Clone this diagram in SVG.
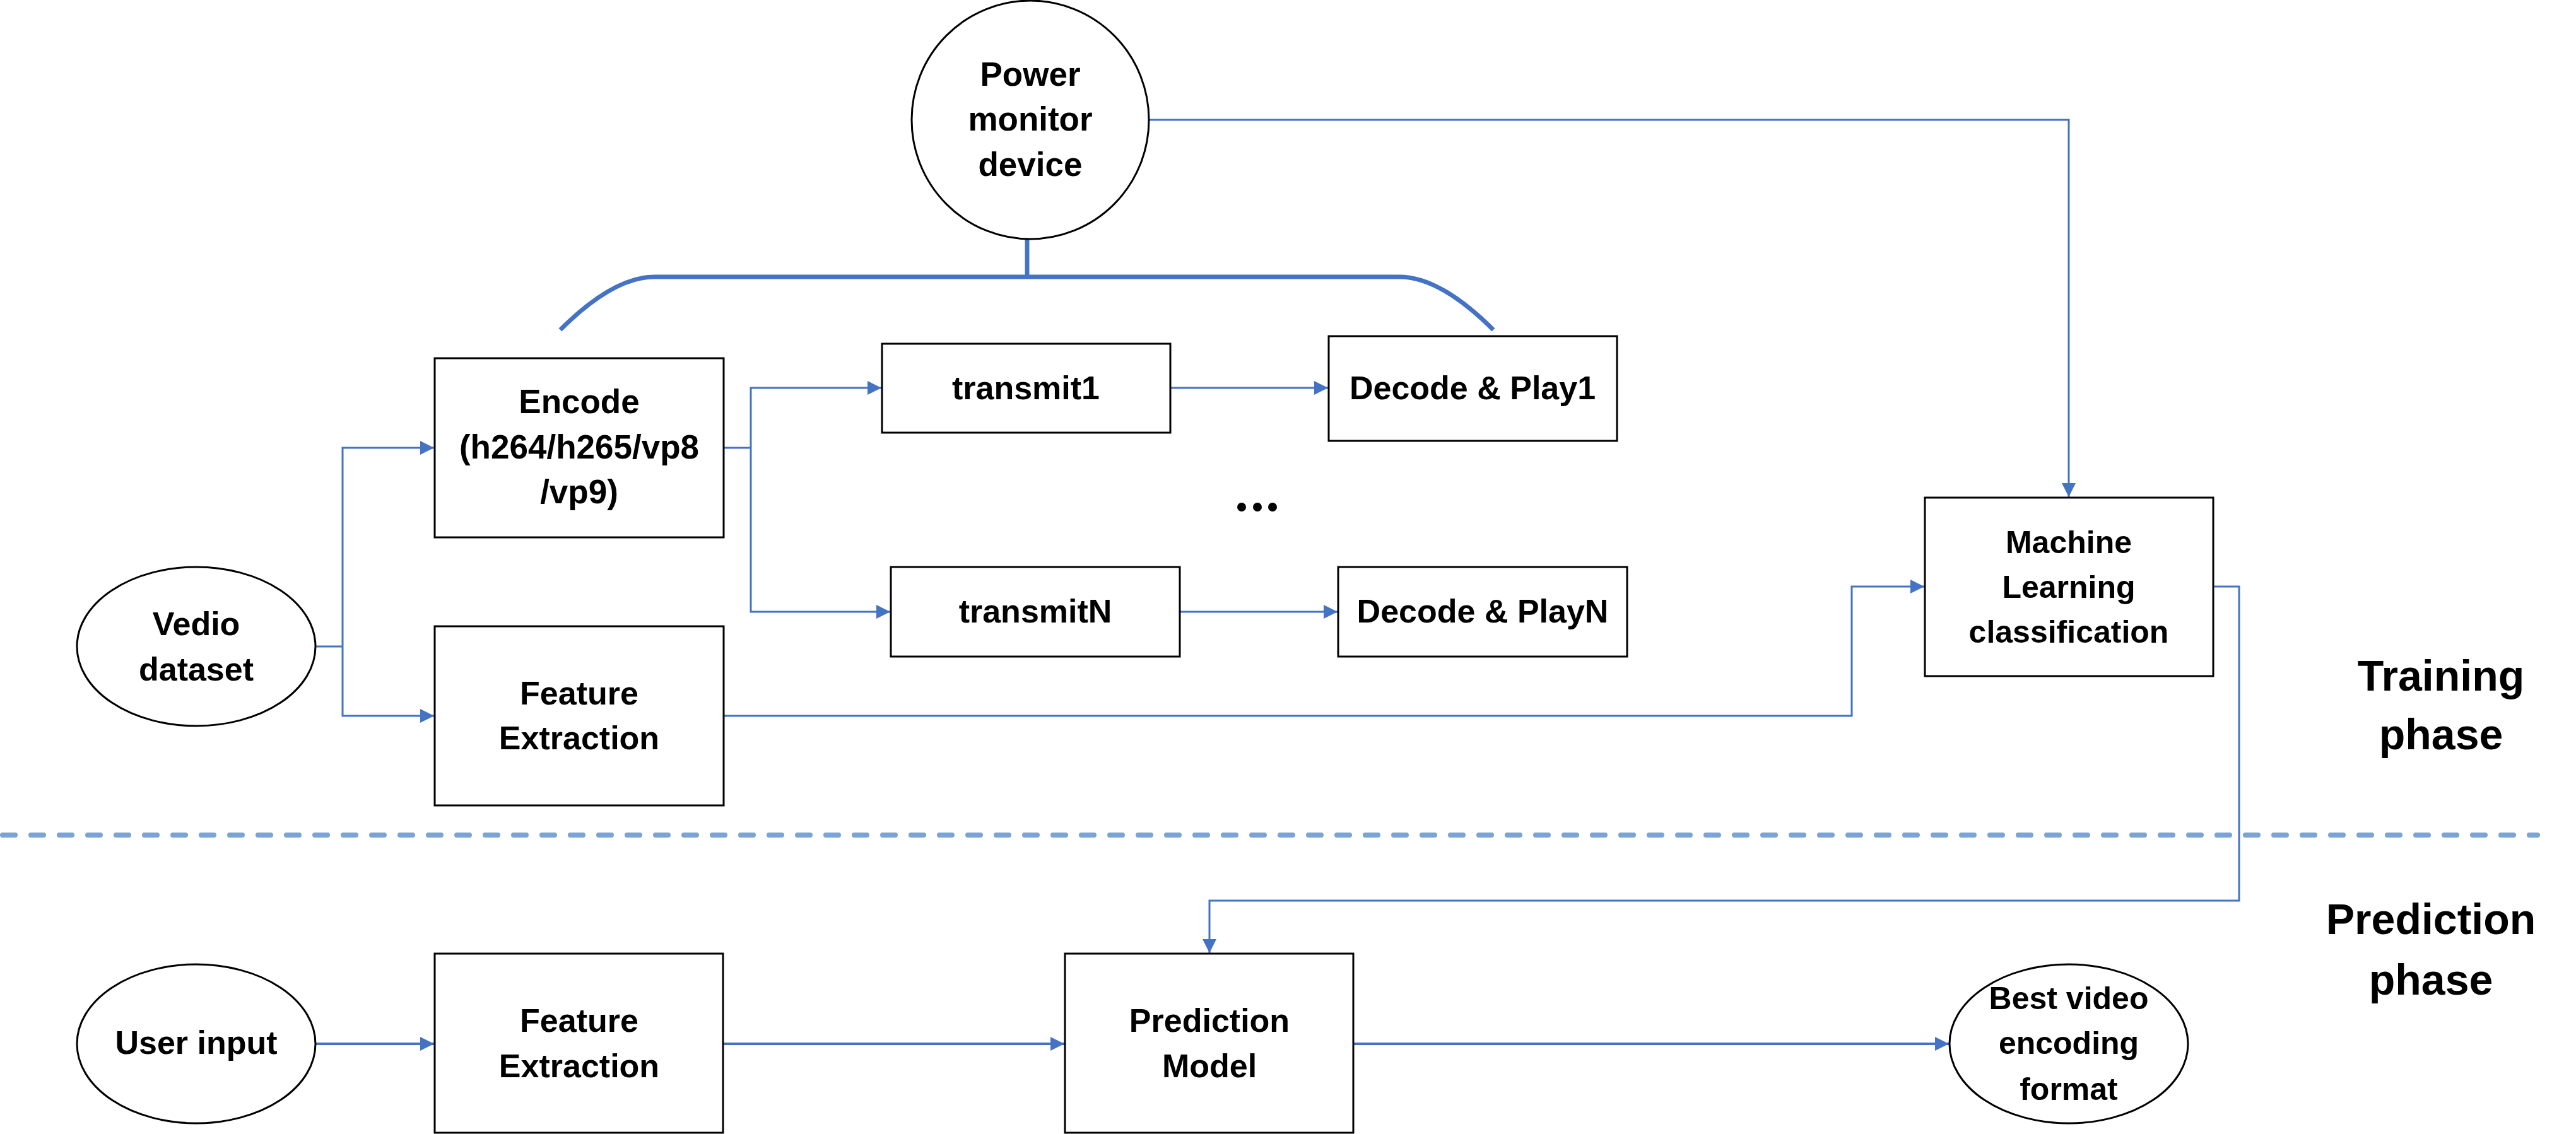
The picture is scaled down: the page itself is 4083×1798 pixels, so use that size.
<svg xmlns="http://www.w3.org/2000/svg" width="4083" height="1798" viewBox="0 0 4083 1798">
<style>
.box{fill:#fff;stroke:#000;stroke-width:3}
.t{font-family:"Liberation Sans",Arial,sans-serif;font-weight:bold;fill:#000;text-anchor:middle}
.c{fill:none;stroke:#4472C4;stroke-width:3}
.cb{fill:none;stroke:#4472C4;stroke-width:4}
.br{fill:none;stroke:#4472C4;stroke-width:7}
</style>
<defs>
<marker id="a" markerUnits="userSpaceOnUse" markerWidth="24" markerHeight="24" refX="22" refY="11" orient="auto">
<path d="M0,0 L22,11 L0,22 z" fill="#4472C4"/>
</marker>
</defs>
<rect width="4083" height="1798" fill="#fff"/>
<g id="connectors">
<path class="br" d="M888,523 Q972,439 1037,439 L2218,439 Q2283,439 2367,523"/>
<path class="br" d="M1628,356 L1628,439"/>
<path class="c" d="M1822,190 L3279,190 L3279,788" marker-end="url(#a)"/>
<path class="c" d="M500,1025 L543,1025"/>
<path class="c" d="M543,1025 L543,710 L688,710" marker-end="url(#a)"/>
<path class="c" d="M543,1025 L543,1135 L688,1135" marker-end="url(#a)"/>
<path class="c" d="M1147,710 L1190,710"/>
<path class="c" d="M1190,710 L1190,615 L1397,615" marker-end="url(#a)"/>
<path class="c" d="M1190,710 L1190,970 L1411,970" marker-end="url(#a)"/>
<path class="c" d="M1855,615 L2105,615" marker-end="url(#a)"/>
<path class="c" d="M1870,970 L2120,970" marker-end="url(#a)"/>
<path class="c" d="M1147,1135 L2935,1135 L2935,930 L3050,930" marker-end="url(#a)"/>
<path class="c" d="M3508,930 L3549,930 L3549,1428 L1917,1428 L1917,1511" marker-end="url(#a)"/>
<path class="cb" d="M500,1655 L688,1655" marker-end="url(#a)"/>
<path class="cb" d="M1146,1655 L1687,1655" marker-end="url(#a)"/>
<path class="cb" d="M2145,1655 L3089,1655" marker-end="url(#a)"/>
</g>
<line id="divider" x1="4" y1="1324" x2="4022" y2="1324" stroke="#7BA3D4" stroke-width="8" stroke-linecap="round" stroke-dasharray="20 25"/>
<g id="power">
<ellipse class="box" cx="1633" cy="190" rx="188" ry="189"/>
<text class="t" font-size="53" x="1633"><tspan x="1633" y="136">Power</tspan><tspan x="1633" y="207">monitor</tspan><tspan x="1633" y="279">device</tspan></text>
</g>
<g id="vedio">
<ellipse class="box" cx="311" cy="1025" rx="189" ry="126"/>
<text class="t" font-size="52"><tspan x="311" y="1007">Vedio</tspan><tspan x="311" y="1079">dataset</tspan></text>
</g>
<g id="encode">
<rect class="box" x="689" y="568" width="458" height="284"/>
<text class="t" font-size="53"><tspan x="918" y="655">Encode</tspan><tspan x="918" y="727">(h264/h265/vp8</tspan><tspan x="918" y="798">/vp9)</tspan></text>
</g>
<g id="feature1">
<rect class="box" x="689" y="993" width="458" height="284"/>
<text class="t" font-size="52"><tspan x="918" y="1117">Feature</tspan><tspan x="918" y="1188">Extraction</tspan></text>
</g>
<g id="transmit1">
<rect class="box" x="1398" y="545" width="457" height="141"/>
<text class="t" font-size="52" x="1626" y="633">transmit1</text>
</g>
<g id="decode1">
<rect class="box" x="2106" y="533" width="457" height="166"/>
<text class="t" font-size="52" x="2334" y="633">Decode &amp; Play1</text>
</g>
<g id="ellipsis">
<circle cx="1968" cy="804" r="7"/><circle cx="1993" cy="804" r="7"/><circle cx="2017" cy="804" r="7"/>
</g>
<g id="transmitN">
<rect class="box" x="1412" y="899" width="458" height="142"/>
<text class="t" font-size="52" x="1641" y="987">transmitN</text>
</g>
<g id="decodeN">
<rect class="box" x="2121" y="899" width="458" height="142"/>
<text class="t" font-size="52" x="2350" y="987">Decode &amp; PlayN</text>
</g>
<g id="ml">
<rect class="box" x="3051" y="789" width="457" height="283"/>
<text class="t" font-size="50"><tspan x="3279" y="877">Machine</tspan><tspan x="3279" y="948">Learning</tspan><tspan x="3279" y="1019">classification</tspan></text>
</g>
<g id="training">
<text class="t" font-size="68"><tspan x="3869" y="1095">Training</tspan><tspan x="3869" y="1188">phase</tspan></text>
</g>
<g id="prediction-label">
<text class="t" font-size="68"><tspan x="3853" y="1481">Prediction</tspan><tspan x="3853" y="1577">phase</tspan></text>
</g>
<g id="user">
<ellipse class="box" cx="311" cy="1655" rx="189" ry="126"/>
<text class="t" font-size="52" x="311" y="1671">User input</text>
</g>
<g id="feature2">
<rect class="box" x="689" y="1512" width="457" height="284"/>
<text class="t" font-size="52"><tspan x="918" y="1636">Feature</tspan><tspan x="918" y="1708">Extraction</tspan></text>
</g>
<g id="predmodel">
<rect class="box" x="1688" y="1512" width="457" height="284"/>
<text class="t" font-size="52"><tspan x="1917" y="1636">Prediction</tspan><tspan x="1917" y="1708">Model</tspan></text>
</g>
<g id="best">
<ellipse class="box" cx="3279" cy="1655" rx="189" ry="126"/>
<text class="t" font-size="50"><tspan x="3279" y="1600">Best video</tspan><tspan x="3279" y="1671">encoding</tspan><tspan x="3279" y="1744">format</tspan></text>
</g>
</svg>
